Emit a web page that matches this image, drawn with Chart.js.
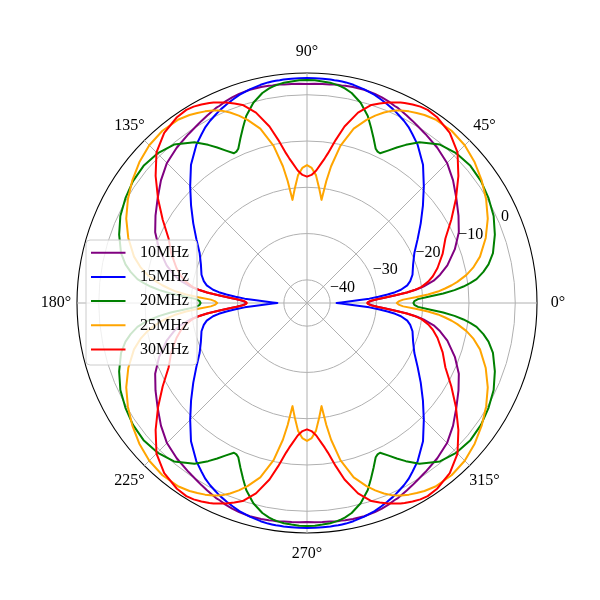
<!DOCTYPE html>
<html><head><meta charset="utf-8">
<script src="https://cdn.jsdelivr.net/npm/chart.js@4/dist/chart.umd.min.js"></script>
<style>html,body{margin:0;padding:0;background:#fff}</style>
</head><body>
<canvas id="c" width="600" height="600"></canvas>
<script>
// Series (pattern is symmetric about both axes; values read for the first quadrant, degrees CCW from 0°)
const seriesLabels = ['10MHz', '15MHz', '20MHz', '25MHz', '30MHz'];
const seriesColors = ['#800080', '#0000ff', '#008000', '#ffa500', '#ff0000'];
const quadrantAngles = [0,1,2,3,4,5,6,7,8,10,12,15,20,25,30,35,40,45,50,55,58,60,62,64,65,66,68,70,72,75,78,80,81,82,83,84,86,88,90];
const gain10MHz = [-31.8,-31.6,-31.0,-29.8,-28.0,-25.8,-23.3,-21.2,-19.6,-17.2,-15.6,-13.6,-11.0,-8.8,-7.2,-5.6,-3.8,-2.2,-1.2,-0.4,0.1,0.5,0.9,1.3,1.5,1.6,2.0,2.3,2.5,2.7,2.7,2.65,2.6,2.6,2.55,2.5,2.45,2.4,2.35];
const gain15MHz = [-38.6,-37.6,-36.0,-34.0,-31.5,-29.5,-27.5,-25.8,-24.5,-23.0,-22.2,-21.4,-20.6,-19.4,-17.4,-15.0,-12.3,-9.3,-6.0,-3.3,-2.0,-1.1,-0.4,0.2,0.5,0.8,1.3,1.8,2.3,2.8,3.2,3.4,3.45,3.5,3.5,3.55,3.55,3.6,3.6];
const gain20MHz = [-22.0,-21.8,-21.0,-18.5,-15.5,-13.0,-11.0,-9.4,-8.0,-6.3,-4.9,-3.4,-1.8,-0.5,0.3,0.9,1.1,0.7,-0.3,-2.6,-4.7,-6.2,-7.7,-9.0,-8.9,-8.5,-6.6,-4.6,-2.5,-0.2,1.4,2.1,2.35,2.55,2.7,2.85,3.0,3.15,3.2];
const gain25MHz = [-25.6,-25.2,-24.2,-21.5,-18.8,-16.6,-15.0,-13.5,-12.2,-10.0,-8.3,-6.3,-3.9,-1.9,-0.3,1.1,2.3,3.2,3.6,3.4,2.9,2.4,1.9,1.3,0.9,0.5,-0.6,-1.9,-3.4,-6.0,-10.3,-15.0,-18.3,-22.5,-21.3,-20.0,-17.3,-15.8,-15.2];
const gain30MHz = [-32.0,-31.8,-31.2,-29.8,-28.0,-25.8,-23.3,-21.4,-20.0,-18.4,-17.2,-15.8,-13.8,-12.0,-9.0,-5.7,-2.3,1.0,3.0,4.0,4.2,4.0,3.6,3.1,2.8,2.4,1.7,0.9,0.0,-2.4,-6.0,-9.2,-10.8,-12.3,-13.5,-14.5,-16.3,-17.3,-17.7];
const seriesValues = [gain10MHz, gain15MHz, gain20MHz, gain25MHz, gain30MHz];

const radialTicks = [-40, -30, -20, -10, 0];
const angleTicks = [0, 45, 90, 135, 180, 225, 270, 315];
const rMin = -45, rMax = 4.7;

// Chart index i (clockwise from the right) <-> polar angle theta = 360 - i (CCW)
const labels = Array.from({length: 360}, (_, i) => String((360 - i) % 360));
function toFullCircle(vals) {
  const arr = new Array(360).fill(null);
  quadrantAngles.forEach((a, k) => {
    [a, 180 - a, 180 + a, 360 - a].forEach(t => {
      const theta = ((t % 360) + 360) % 360;
      arr[(360 - theta) % 360] = vals[k];
    });
  });
  return arr;
}

const FONT = '"Liberation Serif", "Times New Roman", serif';
Chart.defaults.font.family = FONT;
Chart.defaults.font.size = 16;

function fmtTick(v) { return v < 0 ? '\u2212' + Math.abs(v) : String(v); }

const polarDecor = {
  id: 'polarDecor',
  afterDraw(chart) {
    const s = chart.scales.r, ctx = chart.ctx;
    ctx.save();
    ctx.font = '16px ' + FONT;
    ctx.fillStyle = '#000';
    ctx.textAlign = 'center';
    ctx.textBaseline = 'middle';
    angleTicks.forEach(t => {
      const p = s.getPointPosition((360 - t) % 360, s.drawingArea + 21);
      ctx.fillText(t + '\u00b0', p.x, p.y);
    });
    ctx.textAlign = 'left';
    ctx.textBaseline = 'alphabetic';
    const a = 22.5 * Math.PI / 180;
    radialTicks.forEach(v => {
      const d = s.getDistanceFromCenterForValue(v);
      ctx.fillText(fmtTick(v), s.xCenter + d * Math.cos(a) + 1.5, s.yCenter - d * Math.sin(a) - 2);
    });
    // legend
    const lx = 86, ly = 240, lw = 111, lh = 125, rr = 4;
    ctx.beginPath();
    ctx.moveTo(lx + rr, ly);
    ctx.arcTo(lx + lw, ly, lx + lw, ly + lh, rr);
    ctx.arcTo(lx + lw, ly + lh, lx, ly + lh, rr);
    ctx.arcTo(lx, ly + lh, lx, ly, rr);
    ctx.arcTo(lx, ly, lx + lw, ly, rr);
    ctx.closePath();
    ctx.fillStyle = 'rgba(255,255,255,0.8)';
    ctx.fill();
    ctx.strokeStyle = '#cccccc';
    ctx.lineWidth = 1;
    ctx.stroke();
    ctx.textBaseline = 'middle';
    seriesLabels.forEach((lab, k) => {
      const y = 252.7 + k * 24.2;
      ctx.strokeStyle = seriesColors[k];
      ctx.lineWidth = 2;
      ctx.beginPath();
      ctx.moveTo(91, y);
      ctx.lineTo(125.5, y);
      ctx.stroke();
      ctx.fillStyle = '#000';
      ctx.fillText(lab, 140, y);
    });
    ctx.restore();
  }
};

new Chart(document.getElementById('c'), {
  type: 'radar',
  data: {
    labels: labels,
    datasets: seriesLabels.map((lab, k) => ({
      label: lab,
      data: toFullCircle(seriesValues[k]),
      borderColor: seriesColors[k],
      backgroundColor: seriesColors[k],
      borderWidth: 2,
      borderJoinStyle: 'round',
      borderCapStyle: 'round',
      pointRadius: 0,
      fill: false,
      spanGaps: true,
      tension: 0,
      order: seriesLabels.length - 1 - k
    }))
  },
  options: {
    responsive: false,
    animation: false,
    events: [],
    layout: { padding: { left: 77, right: 63, top: 73, bottom: 67 } },
    elements: { line: { spanGaps: true, tension: 0 } },
    plugins: { legend: { display: false }, tooltip: { enabled: false } },
    scales: {
      r: {
        min: rMin,
        max: rMax,
        startAngle: 90,
        beginAtZero: false,
        afterBuildTicks: s => { s.ticks = radialTicks.concat([rMax]).map(v => ({ value: v })); },
        ticks: { display: false },
        pointLabels: { display: false },
        grid: {
          circular: true,
          color: c => (c.tick && c.tick.value === rMax) ? '#000000' : '#b0b0b0',
          lineWidth: c => (c.tick && c.tick.value === rMax) ? 1.1 : 1
        },
        angleLines: {
          display: true,
          color: '#b0b0b0',
          lineWidth: c => angleTicks.includes((360 - c.index) % 360) ? 1 : 0
        }
      }
    }
  },
  plugins: [polarDecor]
});
</script>
</body></html>
